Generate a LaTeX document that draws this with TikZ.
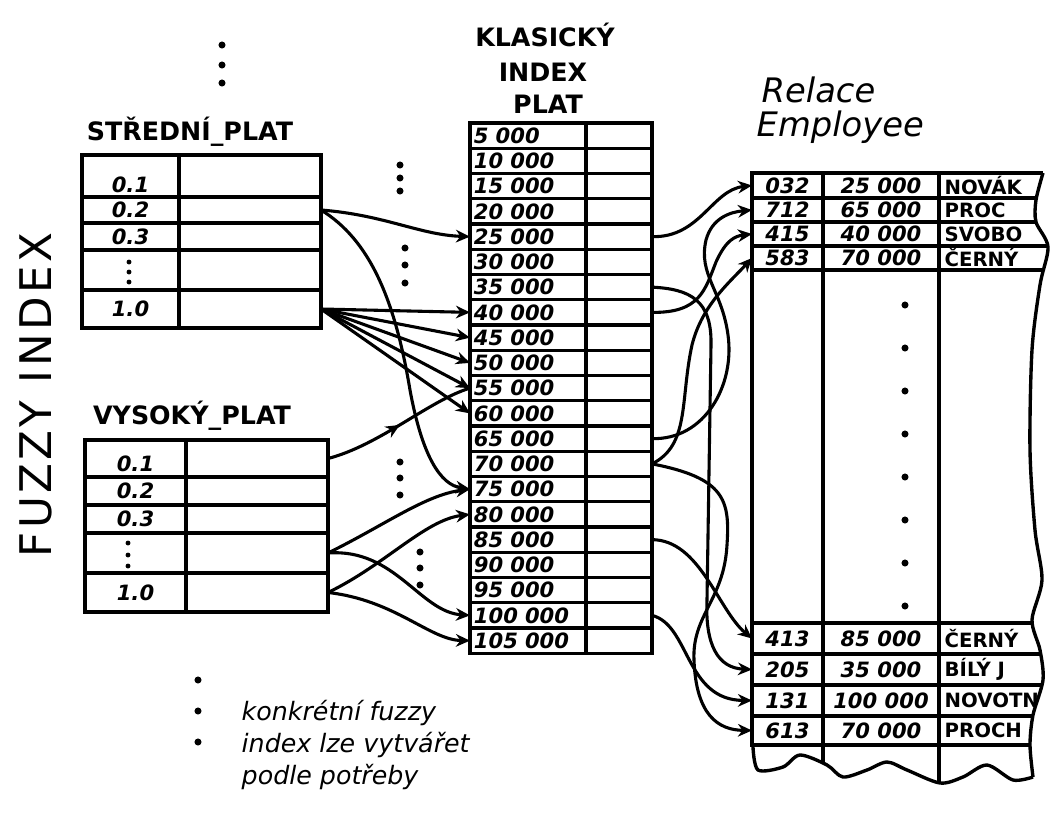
\documentclass[tikz,border=0pt]{standalone}
\usepackage{fontspec}
\setmainfont{DejaVu Sans}
\usetikzlibrary{arrows.meta,decorations.markings}

\tikzset{
  cell/.style={draw, rectangle, inner sep=0pt, outer sep=0pt},
  num/.style={font=\fontsize{15}{16}\selectfont\bfseries\itshape, inner sep=0pt},
  capslab/.style={font=\fontsize{18}{20}\selectfont\bfseries, inner sep=0pt},
  hand/.style={font=\fontsize{24}{26}\selectfont\itshape, inner sep=0pt},
  ptr/.style={->, line width=2.2pt},
  dotmark/.style={circle, fill, inner sep=0pt, minimum size=5pt},
  rowdot/.style={circle, fill, inner sep=0pt, minimum size=3.5pt},
  midarrow/.style={line width=2.2pt, postaction={decorate},
    decoration={markings, mark=at position 0.5 with {\arrow{Stealth[length=10pt,width=9pt]}}}}
}

\begin{document}
\begin{tikzpicture}[x=0.025cm,y=-0.025cm,line width=2.4pt,>={Stealth[length=10pt,width=9pt]}]
\useasboundingbox (0,0) rectangle (1055,818);

% ---------- titles ----------
\node[rotate=90, font=\fontsize{31}{32}\selectfont\addfontfeature{LetterSpace=8}] (fz) at (36,395) {FUZZY INDEX};
\node[capslab] (stl) at (190,132) {STŘEDNÍ\_PLAT};
\node[capslab] (vyl) at (192,416) {VYSOKÝ\_PLAT};
\node[capslab] (kl1) at (545,35) {KLASICKÝ};
\node[capslab] (kl2) at (543,72) {INDEX};
\node[capslab] (kl3) at (548,104) {PLAT};
\node[hand, anchor=west] (rl1) at (760,90) {Relace};
\node[hand, anchor=west] (rl2) at (755,127) {Employee};
\node[font=\fontsize{18}{23}\selectfont\itshape, anchor=west, align=left, inner sep=0pt]
  (note) at (240,745) {konkrétní fuzzy\\index lze vytvářet\\podle potřeby};

% ---------- dots ----------
\foreach \px/\py [count=\j] in {222/45,222/65,222/83, 400/165,400/178,400/191,
    405/248,405/265,405/283, 400/462,400/478,400/495, 420/552,420/568,420/585,
    198/680,198/711,198/742}
  \node[dotmark] (d\j) at (\px,\py) {};

% ---------- fuzzy index STREDNI_PLAT ----------
\foreach \lab/\t/\b/\dy [count=\i] in {0.1/155/197/-6pt, 0.2/197/223/0pt,
    0.3/223/250/0pt, {}/250/290/0pt, 1.0/290/328/0pt}{
  \node[cell, minimum width=2.425cm, minimum height={(\b-\t)*0.025cm}] (sv\i) at (130.5,{(\t+\b)/2}) {};
  \node[cell, minimum width=3.55cm, minimum height={(\b-\t)*0.025cm}] (sp\i) at (250,{(\t+\b)/2}) {};
  \node[num] (st\i) at ([yshift=\dy]sv\i.center) {\lab};
}
\foreach \py [count=\j] in {262,272,282}
  \node[rowdot] (sd\j) at (129,\py) {};

% ---------- fuzzy index VYSOKY_PLAT ----------
\foreach \lab/\t/\b/\dy [count=\i] in {0.1/440/477/-4pt, 0.2/477/505/0pt,
    0.3/505/533/0pt, {}/533/573/0pt, 1.0/573/612/0pt}{
  \node[cell, minimum width=2.525cm, minimum height={(\b-\t)*0.025cm}] (vv\i) at (135.5,{(\t+\b)/2}) {};
  \node[cell, minimum width=3.55cm, minimum height={(\b-\t)*0.025cm}] (vp\i) at (257,{(\t+\b)/2}) {};
  \node[num] (vt\i) at ([yshift=\dy]vv\i.center) {\lab};
}
\foreach \py [count=\j] in {543,555,566}
  \node[rowdot] (vd\j) at (128,\py) {};

% ---------- classic index PLAT ----------
\foreach \i in {0,...,20}{
  \pgfmathtruncatemacro\kv{5*(\i+1)}
  \node[cell, num, minimum width=2.9cm, minimum height=0.63125cm, text width=2.7cm, align=left]
    (k\kv) at (528,{135.625+25.25*\i}) {\kv\ 000};
  \node[cell, minimum width=1.65cm, minimum height=0.63125cm] (p\kv) at (619,{135.625+25.25*\i}) {};
}

% ---------- relation Employee ----------
\begin{scope}
  \clip (752,173) -- plot[smooth] coordinates {(1043,173) (1036,200) (1036,222) (1048,247)
      (1040,285) (1032,350) (1030,450) (1035,530) (1042,580) (1032,620) (1040,650)
      (1043,680) (1033,715) (1030,745) (1033,777)}
    -- plot[smooth] coordinates {(1013,780) (987,765) (963,777) (940,783) (907,770)
      (887,762) (867,770) (843,777) (827,765) (800,755) (783,767) (758,770) (753,747)}
    -- cycle;
  \draw (823,173) -- (823,800);
  \draw (939,173) -- (939,800);
  \foreach \yy in {198,222,246,270,623,654,685,716,745}
    \draw (939,\yy) -- (1060,\yy);
  \foreach \nm/\yy [count=\i] in {NOVÁK/185.5, PROC/210, SVOBO/234, ČERNÝ/258,
      ČERNÝ/638.5, BÍLÝ J/669.5, NOVOTN/700.5, PROCH/730.5}
    \node[num, font=\fontsize{14}{15}\selectfont\bfseries, anchor=west] (en\i) at (943,\yy) {\nm};
\end{scope}
\draw (752,747) -- (752,173) -- (1043,173);
\draw plot[smooth] coordinates {(1043,173) (1036,200) (1036,222) (1048,247)
    (1040,285) (1032,350) (1030,450) (1035,530) (1042,580) (1032,620) (1040,650)
    (1043,680) (1033,715) (1030,745) (1033,777)};
\draw plot[smooth] coordinates {(753,747) (758,770) (783,767) (800,755) (827,765)
    (843,777) (867,770) (887,762) (907,770) (940,783) (963,777) (987,765) (1013,780) (1033,777)};
\foreach \id/\sal/\t/\b [count=\i] in {032/25 000/173/198, 712/65 000/198/222,
    415/40 000/222/246, 583/70 000/246/270, 413/85 000/623/654, 205/35 000/654/685,
    131/100 000/685/716, 613/70 000/716/745}{
  \node[cell, num, minimum width=1.775cm, minimum height={(\b-\t)*0.025cm}] (e\i) at (787.5,{(\t+\b)/2}) {\id};
  \node[cell, num, minimum width=2.9cm, minimum height={(\b-\t)*0.025cm}] (es\i) at (881,{(\t+\b)/2}) {\sal};
}
\foreach \j in {0,...,7}
  \node[dotmark] (ed\j) at (905,{305+43*\j}) {};

% ---------- fuzzy index -> classic index ----------
\draw[ptr] (sp2.east) .. controls (385,215) and (420,235) .. (k25.west);
\draw[ptr] (sp2.east) .. controls (370,240) and (395,300) .. (410,390)
  .. controls (422,455) and (440,485) .. (k75.west);
\foreach \r in {40,45,50,55,60}
  \draw[ptr] (sp5.east) -- (k\r.west);
\draw[midarrow] (vp1.east) .. controls (380,445) and (430,400) .. (k55.west);
\draw[ptr] (vp4.east) .. controls (385,525) and (425,495) .. (k75.west);
\draw[ptr] (vp4.east) .. controls (395,548) and (420,612) .. (k100.west);
\draw[ptr] (vp5.east) .. controls (385,565) and (425,520) .. (k80.west);
\draw[ptr] (vp5.east) .. controls (395,600) and (430,640) .. (k105.west);

% ---------- classic index -> relation ----------
\draw[ptr] (p25.east) .. controls (700,238) and (712,190) .. (e1.west);
\draw[ptr] (p65.east) .. controls (705,440) and (735,385) .. (728,335)
  .. controls (722,290) and (698,275) .. (706,240) .. controls (712,218) and (730,212) .. (e2.west);
\draw[ptr] (p40.east) .. controls (700,313) and (705,290) .. (716,262)
  .. controls (726,240) and (735,236) .. (e3.west);
\draw[ptr] (p70.east) .. controls (690,445) and (680,400) .. (692,345)
  .. controls (702,305) and (730,282) .. (e4.west);
\draw[ptr] (p35.east) .. controls (690,289) and (712,300) .. (711,345) -- (707,600)
  .. controls (705,645) and (718,668) .. (e6.west);
\draw[ptr] (p70.east) .. controls (725,478) and (730,500) .. (727,545)
  .. controls (724,600) and (692,615) .. (694,660) .. controls (696,715) and (718,730) .. (e8.west);
\draw[ptr] (p85.east) .. controls (700,540) and (718,610) .. (e5.west);
\draw[ptr] (p100.east) .. controls (690,625) and (685,700) .. (e7.west);
\end{tikzpicture}
\end{document}
